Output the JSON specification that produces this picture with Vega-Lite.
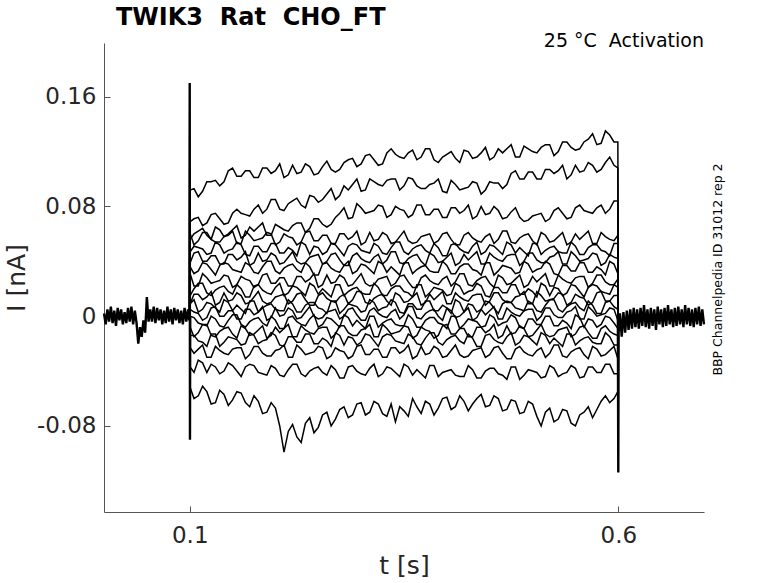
{
  "$schema": "https://vega.github.io/schema/vega-lite/v6.json",
  "width": 600,
  "height": 469,
  "autosize": {"type": "none"},
  "padding": {"left": 104, "top": 43, "right": 74, "bottom": 71},
  "background": "white",
  "title": {
    "text": "TWIK3\u00a0\u00a0Rat\u00a0\u00a0CHO_FT",
    "anchor": "start",
    "frame": "group",
    "dx": 12,
    "dy": 23,
    "offset": 6,
    "baseline": "alphabetic",
    "font": "DejaVu Sans",
    "fontSize": 24,
    "fontWeight": "bold",
    "color": "black"
  },
  "config": {
    "view": {"stroke": null},
    "font": "DejaVu Sans",
    "axis": {"grid": false}
  },
  "datasets": {
    "base": [
      {"seg": "pre", "t": 0, "cur": 0.002},
      {"seg": "pre", "t": 0.002, "cur": -0.006},
      {"seg": "pre", "t": 0.004, "cur": 0.005},
      {"seg": "pre", "t": 0.006, "cur": -0.004},
      {"seg": "pre", "t": 0.008, "cur": 0.007},
      {"seg": "pre", "t": 0.01, "cur": -0.005},
      {"seg": "pre", "t": 0.012, "cur": 0.004},
      {"seg": "pre", "t": 0.014, "cur": -0.007},
      {"seg": "pre", "t": 0.016, "cur": 0.006},
      {"seg": "pre", "t": 0.018, "cur": -0.003},
      {"seg": "pre", "t": 0.02, "cur": 0.005},
      {"seg": "pre", "t": 0.022, "cur": -0.006},
      {"seg": "pre", "t": 0.024, "cur": 0.003},
      {"seg": "pre", "t": 0.026, "cur": -0.005},
      {"seg": "pre", "t": 0.028, "cur": 0.006},
      {"seg": "pre", "t": 0.03, "cur": -0.004},
      {"seg": "pre", "t": 0.032, "cur": 0.007},
      {"seg": "pre", "t": 0.034, "cur": -0.006},
      {"seg": "pre", "t": 0.036, "cur": 0.004},
      {"seg": "pre", "t": 0.038, "cur": -0.005},
      {"seg": "pre", "t": 0.04, "cur": -0.02},
      {"seg": "pre", "t": 0.042, "cur": -0.008},
      {"seg": "pre", "t": 0.044, "cur": -0.015},
      {"seg": "pre", "t": 0.046, "cur": -0.003},
      {"seg": "pre", "t": 0.048, "cur": -0.012},
      {"seg": "pre", "t": 0.05, "cur": 0.014},
      {"seg": "pre", "t": 0.052, "cur": -0.004},
      {"seg": "pre", "t": 0.054, "cur": 0.005},
      {"seg": "pre", "t": 0.056, "cur": -0.004},
      {"seg": "pre", "t": 0.058, "cur": 0.007},
      {"seg": "pre", "t": 0.06, "cur": -0.005},
      {"seg": "pre", "t": 0.062, "cur": 0.006},
      {"seg": "pre", "t": 0.064, "cur": -0.003},
      {"seg": "pre", "t": 0.066, "cur": 0.005},
      {"seg": "pre", "t": 0.068, "cur": -0.006},
      {"seg": "pre", "t": 0.07, "cur": 0.004},
      {"seg": "pre", "t": 0.072, "cur": -0.005},
      {"seg": "pre", "t": 0.074, "cur": 0.007},
      {"seg": "pre", "t": 0.076, "cur": -0.004},
      {"seg": "pre", "t": 0.078, "cur": 0.005},
      {"seg": "pre", "t": 0.08, "cur": -0.006},
      {"seg": "pre", "t": 0.082, "cur": 0.006},
      {"seg": "pre", "t": 0.084, "cur": -0.003},
      {"seg": "pre", "t": 0.086, "cur": 0.005},
      {"seg": "pre", "t": 0.088, "cur": -0.005},
      {"seg": "pre", "t": 0.09, "cur": 0.004},
      {"seg": "pre", "t": 0.092, "cur": -0.006},
      {"seg": "pre", "t": 0.094, "cur": 0.006},
      {"seg": "pre", "t": 0.096, "cur": -0.004},
      {"seg": "pre", "t": 0.098, "cur": 0.005},
      {"seg": "pre", "t": 0.0995, "cur": -0.003},
      {"seg": "pre", "t": 0.1, "cur": 0.17},
      {"seg": "pre", "t": 0.1003, "cur": -0.09},
      {"seg": "pre", "t": 0.1006, "cur": 0},
      {"seg": "post", "t": 0.5995, "cur": 0},
      {"seg": "post", "t": 0.6, "cur": -0.114},
      {"seg": "post", "t": 0.6004, "cur": -0.012},
      {"seg": "post", "t": 0.602, "cur": 0.002},
      {"seg": "post", "t": 0.604, "cur": -0.015},
      {"seg": "post", "t": 0.606, "cur": 0.003},
      {"seg": "post", "t": 0.608, "cur": -0.012},
      {"seg": "post", "t": 0.61, "cur": 0.004},
      {"seg": "post", "t": 0.612, "cur": -0.01},
      {"seg": "post", "t": 0.614, "cur": 0.005},
      {"seg": "post", "t": 0.616, "cur": -0.009},
      {"seg": "post", "t": 0.618, "cur": 0.006},
      {"seg": "post", "t": 0.62, "cur": -0.008},
      {"seg": "post", "t": 0.622, "cur": 0.005},
      {"seg": "post", "t": 0.624, "cur": -0.009},
      {"seg": "post", "t": 0.626, "cur": 0.006},
      {"seg": "post", "t": 0.628, "cur": -0.007},
      {"seg": "post", "t": 0.63, "cur": 0.008},
      {"seg": "post", "t": 0.632, "cur": -0.008},
      {"seg": "post", "t": 0.634, "cur": 0.005},
      {"seg": "post", "t": 0.636, "cur": -0.009},
      {"seg": "post", "t": 0.638, "cur": 0.006},
      {"seg": "post", "t": 0.64, "cur": -0.007},
      {"seg": "post", "t": 0.642, "cur": 0.005},
      {"seg": "post", "t": 0.644, "cur": -0.01},
      {"seg": "post", "t": 0.646, "cur": 0.007},
      {"seg": "post", "t": 0.648, "cur": -0.006},
      {"seg": "post", "t": 0.65, "cur": 0.005},
      {"seg": "post", "t": 0.652, "cur": -0.008},
      {"seg": "post", "t": 0.654, "cur": 0.006},
      {"seg": "post", "t": 0.656, "cur": -0.007},
      {"seg": "post", "t": 0.658, "cur": 0.008},
      {"seg": "post", "t": 0.66, "cur": -0.006},
      {"seg": "post", "t": 0.662, "cur": 0.005},
      {"seg": "post", "t": 0.664, "cur": -0.008},
      {"seg": "post", "t": 0.666, "cur": 0.006},
      {"seg": "post", "t": 0.668, "cur": -0.007},
      {"seg": "post", "t": 0.67, "cur": 0.007},
      {"seg": "post", "t": 0.672, "cur": -0.006},
      {"seg": "post", "t": 0.674, "cur": 0.005},
      {"seg": "post", "t": 0.676, "cur": -0.008},
      {"seg": "post", "t": 0.678, "cur": 0.008},
      {"seg": "post", "t": 0.68, "cur": -0.006},
      {"seg": "post", "t": 0.682, "cur": 0.006},
      {"seg": "post", "t": 0.684, "cur": -0.007},
      {"seg": "post", "t": 0.686, "cur": 0.005},
      {"seg": "post", "t": 0.688, "cur": -0.008},
      {"seg": "post", "t": 0.69, "cur": 0.006},
      {"seg": "post", "t": 0.692, "cur": -0.006},
      {"seg": "post", "t": 0.694, "cur": 0.007},
      {"seg": "post", "t": 0.696, "cur": -0.007},
      {"seg": "post", "t": 0.698, "cur": 0.005},
      {"seg": "post", "t": 0.7, "cur": -0.006}
    ],
    "pulse": [
      {"t":0.1,"a":0,"b":0,"c":0,"d":0,"e":0,"f":0,"g":0,"h":0,"i":0,"j":0,"k":0,"l":0,"m":0,"n":0,"o":0,"p":0,"q":0,"r":0},
      {"t":0.1005,"a":0.092,"b":0.069,"c":0.056,"d":0.06,"e":0.047,"f":0.039,"g":0.036,"h":0.031,"i":0.015,"j":0.009,"k":0.009,"l":0.005,"m":0,"n":-0.008,"o":-0.014,"p":-0.023,"q":-0.037,"r":-0.052},
      {"t":0.105,"a":0.093,"b":0.071,"c":0.06,"d":0.052,"e":0.051,"f":0.046,"g":0.031,"h":0.022,"i":0.02,"j":0.016,"k":0.012,"l":0.003,"m":-0.001,"n":-0.015,"o":-0.014,"p":-0.027,"q":-0.041,"r":-0.06},
      {"t":0.11,"a":0.087,"b":0.072,"c":0.062,"d":0.055,"e":0.05,"f":0.047,"g":0.033,"h":0.022,"i":0.024,"j":0.016,"k":0.003,"l":0.002,"m":-0.005,"n":-0.012,"o":-0.018,"p":-0.024,"q":-0.032,"r":-0.058},
      {"t":0.115,"a":0.091,"b":0.066,"c":0.064,"d":0.061,"e":0.049,"f":0.04,"g":0.039,"h":0.031,"i":0.024,"j":0.012,"k":0.005,"l":-0.003,"m":-0.006,"n":-0.006,"o":-0.019,"p":-0.021,"q":-0.034,"r":-0.051},
      {"t":0.12,"a":0.098,"b":0.068,"c":0.059,"d":0.061,"e":0.045,"f":0.04,"g":0.038,"h":0.028,"i":0.017,"j":0.014,"k":0.01,"l":-0.001,"m":-0.007,"n":-0.006,"o":-0.022,"p":-0.03,"q":-0.041,"r":-0.055},
      {"t":0.125,"a":0.098,"b":0.074,"c":0.056,"d":0.056,"e":0.046,"f":0.044,"g":0.034,"h":0.024,"i":0.015,"j":0.018,"k":0.009,"l":0.006,"m":0,"n":-0.014,"o":-0.013,"p":-0.03,"q":-0.035,"r":-0.064},
      {"t":0.13,"a":0.099,"b":0.075,"c":0.065,"d":0.054,"e":0.054,"f":0.044,"g":0.03,"h":0.025,"i":0.019,"j":0.008,"k":0.006,"l":0.007,"m":-0.002,"n":-0.015,"o":-0.013,"p":-0.022,"q":-0.037,"r":-0.063},
      {"t":0.135,"a":0.095,"b":0.071,"c":0.063,"d":0.054,"e":0.052,"f":0.038,"g":0.037,"h":0.026,"i":0.021,"j":0.01,"k":0.003,"l":0,"m":-0.007,"n":-0.011,"o":-0.022,"p":-0.025,"q":-0.042,"r":-0.054},
      {"t":0.14,"a":0.098,"b":0.067,"c":0.058,"d":0.058,"e":0.046,"f":0.038,"g":0.039,"h":0.03,"i":0.022,"j":0.017,"k":0.012,"l":0,"m":-0.008,"n":-0.009,"o":-0.019,"p":-0.027,"q":-0.04,"r":-0.057},
      {"t":0.145,"a":0.106,"b":0.068,"c":0.06,"d":0.059,"e":0.048,"f":0.045,"g":0.038,"h":0.029,"i":0.018,"j":0.011,"k":0.01,"l":0.004,"m":-0.003,"n":-0.008,"o":-0.015,"p":-0.028,"q":-0.034,"r":-0.065},
      {"t":0.15,"a":0.108,"b":0.075,"c":0.063,"d":0.062,"e":0.049,"f":0.045,"g":0.034,"h":0.021,"i":0.016,"j":0.012,"k":0.004,"l":0.004,"m":0.001,"n":-0.013,"o":-0.016,"p":-0.024,"q":-0.036,"r":-0.061},
      {"t":0.155,"a":0.102,"b":0.078,"c":0.066,"d":0.053,"e":0.054,"f":0.041,"g":0.033,"h":0.023,"i":0.023,"j":0.017,"k":0.008,"l":-0.002,"m":0.001,"n":-0.016,"o":-0.017,"p":-0.023,"q":-0.04,"r":-0.055},
      {"t":0.16,"a":0.102,"b":0.075,"c":0.057,"d":0.053,"e":0.052,"f":0.043,"g":0.032,"h":0.029,"i":0.02,"j":0.015,"k":0.005,"l":-0.002,"m":-0.006,"n":-0.007,"o":-0.021,"p":-0.023,"q":-0.044,"r":-0.056},
      {"t":0.165,"a":0.106,"b":0.074,"c":0.059,"d":0.062,"e":0.045,"f":0.047,"g":0.039,"h":0.027,"i":0.014,"j":0.009,"k":0.002,"l":0.005,"m":-0.008,"n":-0.009,"o":-0.02,"p":-0.031,"q":-0.037,"r":-0.063},
      {"t":0.17,"a":0.106,"b":0.073,"c":0.065,"d":0.059,"e":0.044,"f":0.037,"g":0.037,"h":0.026,"i":0.014,"j":0.01,"k":0.011,"l":0.005,"m":-0.004,"n":-0.014,"o":-0.012,"p":-0.028,"q":-0.035,"r":-0.066},
      {"t":0.175,"a":0.101,"b":0.078,"c":0.062,"d":0.055,"e":0.051,"f":0.039,"g":0.032,"h":0.021,"i":0.022,"j":0.014,"k":0.011,"l":0.001,"m":-0.002,"n":-0.013,"o":-0.014,"p":-0.022,"q":-0.036,"r":-0.058},
      {"t":0.18,"a":0.101,"b":0.081,"c":0.065,"d":0.056,"e":0.051,"f":0.046,"g":0.031,"h":0.023,"i":0.023,"j":0.018,"k":0.003,"l":0.003,"m":-0.001,"n":-0.01,"o":-0.02,"p":-0.022,"q":-0.041,"r":-0.062},
      {"t":0.185,"a":0.108,"b":0.075,"c":0.068,"d":0.057,"e":0.047,"f":0.04,"g":0.036,"h":0.03,"i":0.019,"j":0.011,"k":0.006,"l":0.007,"m":-0.005,"n":-0.007,"o":-0.018,"p":-0.027,"q":-0.042,"r":-0.071},
      {"t":0.19,"a":0.108,"b":0.078,"c":0.059,"d":0.061,"e":0.047,"f":0.041,"g":0.04,"h":0.031,"i":0.017,"j":0.009,"k":0.008,"l":-0.003,"m":-0.007,"n":-0.016,"o":-0.017,"p":-0.029,"q":-0.043,"r":-0.07},
      {"t":0.195,"a":0.104,"b":0.085,"c":0.059,"d":0.06,"e":0.053,"f":0.046,"g":0.04,"h":0.024,"i":0.016,"j":0.01,"k":0.009,"l":-0.001,"m":0,"n":-0.014,"o":-0.012,"p":-0.029,"q":-0.036,"r":-0.063},
      {"t":0.2,"a":0.106,"b":0.085,"c":0.067,"d":0.052,"e":0.053,"f":0.044,"g":0.033,"h":0.024,"i":0.021,"j":0.014,"k":0.005,"l":0.006,"m":-0.003,"n":-0.008,"o":-0.014,"p":-0.025,"q":-0.038,"r":-0.067},
      {"t":0.205,"a":0.111,"b":0.078,"c":0.065,"d":0.054,"e":0.046,"f":0.038,"g":0.031,"h":0.028,"i":0.024,"j":0.015,"k":0.004,"l":0,"m":-0.009,"n":-0.012,"o":-0.021,"p":-0.024,"q":-0.043,"r":-0.08},
      {"t":0.21,"a":0.101,"b":0.077,"c":0.063,"d":0.06,"e":0.046,"f":0.039,"g":0.035,"h":0.028,"i":0.015,"j":0.016,"k":0.004,"l":0.001,"m":-0.009,"n":-0.009,"o":-0.022,"p":-0.021,"q":-0.044,"r":-0.099},
      {"t":0.215,"a":0.103,"b":0.082,"c":0.062,"d":0.058,"e":0.05,"f":0.043,"g":0.037,"h":0.022,"i":0.017,"j":0.009,"k":0.012,"l":0.006,"m":-0.001,"n":-0.006,"o":-0.015,"p":-0.03,"q":-0.039,"r":-0.084},
      {"t":0.22,"a":0.11,"b":0.084,"c":0.066,"d":0.057,"e":0.048,"f":0.047,"g":0.038,"h":0.022,"i":0.022,"j":0.011,"k":0.009,"l":0.004,"m":0,"n":-0.015,"o":-0.015,"p":-0.03,"q":-0.035,"r":-0.079},
      {"t":0.225,"a":0.104,"b":0.086,"c":0.068,"d":0.052,"e":0.044,"f":0.04,"g":0.034,"h":0.029,"i":0.021,"j":0.016,"k":0.003,"l":-0.002,"m":-0.004,"n":-0.015,"o":-0.019,"p":-0.021,"q":-0.035,"r":-0.088},
      {"t":0.23,"a":0.105,"b":0.081,"c":0.068,"d":0.054,"e":0.054,"f":0.038,"g":0.032,"h":0.029,"i":0.018,"j":0.017,"k":0.003,"l":-0.001,"m":-0.006,"n":-0.007,"o":-0.019,"p":-0.024,"q":-0.042,"r":-0.092},
      {"t":0.235,"a":0.111,"b":0.079,"c":0.061,"d":0.061,"e":0.052,"f":0.039,"g":0.039,"h":0.025,"i":0.015,"j":0.012,"k":0.008,"l":0.003,"m":-0.007,"n":-0.01,"o":-0.013,"p":-0.028,"q":-0.044,"r":-0.078},
      {"t":0.24,"a":0.109,"b":0.088,"c":0.064,"d":0.062,"e":0.045,"f":0.043,"g":0.036,"h":0.027,"i":0.024,"j":0.008,"k":0.01,"l":0.007,"m":-0.002,"n":-0.012,"o":-0.013,"p":-0.027,"q":-0.04,"r":-0.074},
      {"t":0.245,"a":0.103,"b":0.087,"c":0.071,"d":0.055,"e":0.051,"f":0.044,"g":0.03,"h":0.031,"i":0.022,"j":0.008,"k":0.01,"l":0,"m":0.001,"n":-0.013,"o":-0.02,"p":-0.026,"q":-0.038,"r":-0.085},
      {"t":0.25,"a":0.104,"b":0.083,"c":0.071,"d":0.055,"e":0.05,"f":0.045,"g":0.03,"h":0.021,"i":0.016,"j":0.015,"k":0.006,"l":-0.002,"m":-0.008,"n":-0.009,"o":-0.02,"p":-0.022,"q":-0.037,"r":-0.081},
      {"t":0.255,"a":0.109,"b":0.085,"c":0.067,"d":0.059,"e":0.045,"f":0.038,"g":0.038,"h":0.023,"i":0.02,"j":0.017,"k":0.005,"l":-0.001,"m":-0.006,"n":-0.008,"o":-0.016,"p":-0.023,"q":-0.041,"r":-0.072},
      {"t":0.26,"a":0.113,"b":0.089,"c":0.065,"d":0.059,"e":0.047,"f":0.04,"g":0.039,"h":0.03,"i":0.017,"j":0.013,"k":0.002,"l":0.003,"m":-0.001,"n":-0.008,"o":-0.018,"p":-0.031,"q":-0.043,"r":-0.07},
      {"t":0.265,"a":0.107,"b":0.093,"c":0.067,"d":0.053,"e":0.053,"f":0.045,"g":0.035,"h":0.024,"i":0.014,"j":0.011,"k":0.011,"l":0.004,"m":-0.002,"n":-0.016,"o":-0.022,"p":-0.029,"q":-0.036,"r":-0.08},
      {"t":0.27,"a":0.105,"b":0.085,"c":0.072,"d":0.053,"e":0.052,"f":0.046,"g":0.033,"h":0.025,"i":0.023,"j":0.01,"k":0.011,"l":0.005,"m":-0.005,"n":-0.013,"o":-0.012,"p":-0.023,"q":-0.039,"r":-0.075},
      {"t":0.275,"a":0.107,"b":0.088,"c":0.075,"d":0.06,"e":0.048,"f":0.041,"g":0.032,"h":0.03,"i":0.023,"j":0.014,"k":0.002,"l":-0.002,"m":-0.008,"n":-0.007,"o":-0.014,"p":-0.025,"q":-0.045,"r":-0.068},
      {"t":0.28,"a":0.112,"b":0.095,"c":0.079,"d":0.06,"e":0.044,"f":0.037,"g":0.037,"h":0.028,"i":0.015,"j":0.016,"k":0.005,"l":0,"m":0.001,"n":-0.007,"o":-0.021,"p":-0.026,"q":-0.045,"r":-0.066},
      {"t":0.285,"a":0.114,"b":0.092,"c":0.071,"d":0.056,"e":0.051,"f":0.037,"g":0.04,"h":0.022,"i":0.018,"j":0.009,"k":0.009,"l":0.005,"m":-0.001,"n":-0.012,"o":-0.015,"p":-0.031,"q":-0.037,"r":-0.074},
      {"t":0.29,"a":0.115,"b":0.096,"c":0.072,"d":0.058,"e":0.053,"f":0.044,"g":0.031,"h":0.023,"i":0.02,"j":0.012,"k":0.008,"l":0.006,"m":-0.007,"n":-0.014,"o":-0.016,"p":-0.029,"q":-0.036,"r":-0.072},
      {"t":0.295,"a":0.109,"b":0.1,"c":0.082,"d":0.062,"e":0.052,"f":0.046,"g":0.033,"h":0.027,"i":0.021,"j":0.018,"k":0.007,"l":0.001,"m":-0.003,"n":-0.014,"o":-0.021,"p":-0.022,"q":-0.04,"r":-0.064},
      {"t":0.3,"a":0.111,"b":0.091,"c":0.079,"d":0.052,"e":0.048,"f":0.042,"g":0.038,"h":0.031,"i":0.017,"j":0.018,"k":0.003,"l":-0.003,"m":-0.006,"n":-0.01,"o":-0.019,"p":-0.021,"q":-0.042,"r":-0.063},
      {"t":0.305,"a":0.117,"b":0.092,"c":0.075,"d":0.054,"e":0.047,"f":0.04,"g":0.037,"h":0.024,"i":0.016,"j":0.01,"k":0.004,"l":-0.003,"m":-0.009,"n":-0.009,"o":-0.013,"p":-0.028,"q":-0.043,"r":-0.072},
      {"t":0.31,"a":0.118,"b":0.1,"c":0.076,"d":0.061,"e":0.046,"f":0.039,"g":0.034,"h":0.022,"i":0.016,"j":0.009,"k":0.012,"l":0.004,"m":0,"n":-0.006,"o":-0.014,"p":-0.028,"q":-0.038,"r":-0.07},
      {"t":0.315,"a":0.114,"b":0.098,"c":0.077,"d":0.055,"e":0.053,"f":0.043,"g":0.031,"h":0.023,"i":0.024,"j":0.013,"k":0.01,"l":0.006,"m":0,"n":-0.015,"o":-0.018,"p":-0.024,"q":-0.035,"r":-0.062},
      {"t":0.32,"a":0.11,"b":0.096,"c":0.081,"d":0.056,"e":0.051,"f":0.045,"g":0.04,"h":0.027,"i":0.021,"j":0.015,"k":0.004,"l":0.002,"m":-0.008,"n":-0.015,"o":-0.022,"p":-0.024,"q":-0.044,"r":-0.064},
      {"t":0.325,"a":0.111,"b":0.095,"c":0.08,"d":0.061,"e":0.046,"f":0.038,"g":0.038,"h":0.028,"i":0.015,"j":0.016,"k":0.006,"l":0,"m":-0.005,"n":-0.006,"o":-0.015,"p":-0.03,"q":-0.042,"r":-0.071},
      {"t":0.33,"a":0.119,"b":0.099,"c":0.072,"d":0.059,"e":0.045,"f":0.041,"g":0.032,"h":0.029,"i":0.015,"j":0.011,"k":0.007,"l":-0.001,"m":-0.003,"n":-0.009,"o":-0.013,"p":-0.03,"q":-0.037,"r":-0.073},
      {"t":0.335,"a":0.122,"b":0.1,"c":0.074,"d":0.053,"e":0.05,"f":0.047,"g":0.036,"h":0.022,"i":0.02,"j":0.008,"k":0.012,"l":0.003,"m":-0.002,"n":-0.013,"o":-0.014,"p":-0.023,"q":-0.038,"r":-0.064},
      {"t":0.34,"a":0.118,"b":0.1,"c":0.08,"d":0.054,"e":0.054,"f":0.047,"g":0.033,"h":0.024,"i":0.022,"j":0.017,"k":0.01,"l":0.005,"m":-0.006,"n":-0.012,"o":-0.018,"p":-0.023,"q":-0.041,"r":-0.077},
      {"t":0.345,"a":0.116,"b":0.092,"c":0.078,"d":0.058,"e":0.054,"f":0.039,"g":0.03,"h":0.029,"i":0.022,"j":0.015,"k":0.003,"l":-0.002,"m":-0.007,"n":-0.011,"o":-0.019,"p":-0.027,"q":-0.044,"r":-0.066},
      {"t":0.35,"a":0.115,"b":0.095,"c":0.077,"d":0.062,"e":0.047,"f":0.038,"g":0.039,"h":0.03,"i":0.018,"j":0.01,"k":0.002,"l":0.001,"m":-0.007,"n":-0.007,"o":-0.02,"p":-0.025,"q":-0.035,"r":-0.069},
      {"t":0.355,"a":0.119,"b":0.101,"c":0.072,"d":0.055,"e":0.045,"f":0.042,"g":0.039,"h":0.025,"i":0.017,"j":0.011,"k":0.009,"l":0.007,"m":0.001,"n":-0.008,"o":-0.013,"p":-0.021,"q":-0.037,"r":-0.073},
      {"t":0.36,"a":0.121,"b":0.1,"c":0.074,"d":0.053,"e":0.049,"f":0.044,"g":0.031,"h":0.021,"i":0.014,"j":0.014,"k":0.009,"l":0.007,"m":-0.002,"n":-0.016,"o":-0.015,"p":-0.031,"q":-0.043,"r":-0.06},
      {"t":0.365,"a":0.114,"b":0.095,"c":0.081,"d":0.054,"e":0.051,"f":0.045,"g":0.034,"h":0.021,"i":0.023,"j":0.017,"k":0.005,"l":-0.001,"m":-0.008,"n":-0.014,"o":-0.02,"p":-0.029,"q":-0.039,"r":-0.066},
      {"t":0.37,"a":0.116,"b":0.093,"c":0.081,"d":0.058,"e":0.052,"f":0.04,"g":0.036,"h":0.028,"i":0.023,"j":0.008,"k":0.005,"l":-0.002,"m":-0.008,"n":-0.008,"o":-0.021,"p":-0.022,"q":-0.042,"r":-0.071},
      {"t":0.375,"a":0.122,"b":0.093,"c":0.074,"d":0.059,"e":0.048,"f":0.037,"g":0.037,"h":0.03,"i":0.014,"j":0.01,"k":0.011,"l":0.002,"m":-0.003,"n":-0.01,"o":-0.016,"p":-0.028,"q":-0.045,"r":-0.062},
      {"t":0.38,"a":0.122,"b":0.096,"c":0.074,"d":0.06,"e":0.046,"f":0.046,"g":0.033,"h":0.026,"i":0.017,"j":0.016,"k":0.011,"l":0.004,"m":-0.001,"n":-0.011,"o":-0.012,"p":-0.027,"q":-0.036,"r":-0.064},
      {"t":0.385,"a":0.114,"b":0.097,"c":0.078,"d":0.053,"e":0.053,"f":0.044,"g":0.032,"h":0.024,"i":0.021,"j":0.012,"k":0.004,"l":0.005,"m":-0.001,"n":-0.016,"o":-0.012,"p":-0.022,"q":-0.036,"r":-0.072},
      {"t":0.39,"a":0.112,"b":0.1,"c":0.078,"d":0.055,"e":0.05,"f":0.039,"g":0.032,"h":0.023,"i":0.02,"j":0.015,"k":0.004,"l":0,"m":-0.005,"n":-0.014,"o":-0.019,"p":-0.024,"q":-0.044,"r":-0.067},
      {"t":0.395,"a":0.116,"b":0.091,"c":0.072,"d":0.06,"e":0.044,"f":0.04,"g":0.04,"h":0.027,"i":0.019,"j":0.018,"k":0.008,"l":-0.003,"m":-0.006,"n":-0.007,"o":-0.021,"p":-0.03,"q":-0.041,"r":-0.06},
      {"t":0.4,"a":0.118,"b":0.09,"c":0.072,"d":0.061,"e":0.044,"f":0.043,"g":0.037,"h":0.029,"i":0.015,"j":0.009,"k":0.006,"l":0.006,"m":-0.009,"n":-0.006,"o":-0.017,"p":-0.029,"q":-0.04,"r":-0.059},
      {"t":0.405,"a":0.12,"b":0.099,"c":0.079,"d":0.056,"e":0.052,"f":0.046,"g":0.031,"h":0.022,"i":0.016,"j":0.009,"k":0.002,"l":0.004,"m":0,"n":-0.013,"o":-0.015,"p":-0.025,"q":-0.039,"r":-0.068},
      {"t":0.41,"a":0.115,"b":0.096,"c":0.079,"d":0.052,"e":0.053,"f":0.037,"g":0.031,"h":0.025,"i":0.024,"j":0.017,"k":0.012,"l":-0.001,"m":0,"n":-0.013,"o":-0.014,"p":-0.021,"q":-0.043,"r":-0.066},
      {"t":0.415,"a":0.112,"b":0.092,"c":0.075,"d":0.052,"e":0.049,"f":0.039,"g":0.036,"h":0.031,"i":0.022,"j":0.014,"k":0.01,"l":0,"m":-0.009,"n":-0.009,"o":-0.018,"p":-0.028,"q":-0.044,"r":-0.058},
      {"t":0.42,"a":0.121,"b":0.093,"c":0.077,"d":0.059,"e":0.047,"f":0.045,"g":0.038,"h":0.031,"i":0.016,"j":0.012,"k":0.003,"l":0.003,"m":-0.006,"n":-0.009,"o":-0.02,"p":-0.03,"q":-0.044,"r":-0.062},
      {"t":0.425,"a":0.12,"b":0.094,"c":0.081,"d":0.061,"e":0.046,"f":0.041,"g":0.038,"h":0.023,"i":0.018,"j":0.011,"k":0.009,"l":0.006,"m":-0.002,"n":-0.015,"o":-0.013,"p":-0.029,"q":-0.036,"r":-0.069},
      {"t":0.43,"a":0.115,"b":0.098,"c":0.071,"d":0.057,"e":0.051,"f":0.044,"g":0.034,"h":0.022,"i":0.019,"j":0.015,"k":0.008,"l":-0.003,"m":-0.003,"n":-0.015,"o":-0.016,"p":-0.025,"q":-0.039,"r":-0.064},
      {"t":0.435,"a":0.116,"b":0.097,"c":0.073,"d":0.055,"e":0.054,"f":0.047,"g":0.033,"h":0.026,"i":0.024,"j":0.016,"k":0.003,"l":-0.001,"m":-0.004,"n":-0.008,"o":-0.022,"p":-0.024,"q":-0.045,"r":-0.06},
      {"t":0.44,"a":0.119,"b":0.089,"c":0.08,"d":0.054,"e":0.045,"f":0.038,"g":0.03,"h":0.028,"i":0.022,"j":0.016,"k":0.005,"l":0.005,"m":-0.008,"n":-0.008,"o":-0.022,"p":-0.023,"q":-0.045,"r":-0.057},
      {"t":0.445,"a":0.123,"b":0.092,"c":0.074,"d":0.058,"e":0.047,"f":0.038,"g":0.039,"h":0.029,"i":0.015,"j":0.008,"k":0.011,"l":0.001,"m":-0.007,"n":-0.012,"o":-0.014,"p":-0.03,"q":-0.04,"r":-0.066},
      {"t":0.45,"a":0.114,"b":0.098,"c":0.075,"d":0.06,"e":0.052,"f":0.046,"g":0.039,"h":0.024,"i":0.014,"j":0.011,"k":0.01,"l":0.004,"m":0.001,"n":-0.01,"o":-0.013,"p":-0.028,"q":-0.038,"r":-0.065},
      {"t":0.455,"a":0.116,"b":0.097,"c":0.08,"d":0.053,"e":0.051,"f":0.043,"g":0.03,"h":0.021,"i":0.021,"j":0.017,"k":0.006,"l":0.007,"m":-0.001,"n":-0.006,"o":-0.017,"p":-0.023,"q":-0.038,"r":-0.058},
      {"t":0.46,"a":0.122,"b":0.097,"c":0.077,"d":0.056,"e":0.048,"f":0.041,"g":0.033,"h":0.03,"i":0.021,"j":0.017,"k":0.002,"l":-0.002,"m":-0.007,"n":-0.016,"o":-0.019,"p":-0.022,"q":-0.042,"r":-0.06},
      {"t":0.465,"a":0.119,"b":0.093,"c":0.071,"d":0.062,"e":0.045,"f":0.04,"g":0.037,"h":0.028,"i":0.017,"j":0.012,"k":0.009,"l":-0.002,"m":-0.005,"n":-0.014,"o":-0.02,"p":-0.027,"q":-0.043,"r":-0.069},
      {"t":0.47,"a":0.122,"b":0.096,"c":0.072,"d":0.062,"e":0.054,"f":0.044,"g":0.036,"h":0.023,"i":0.017,"j":0.01,"k":0.011,"l":0.006,"m":-0.004,"n":-0.007,"o":-0.015,"p":-0.031,"q":-0.046,"r":-0.068},
      {"t":0.475,"a":0.125,"b":0.104,"c":0.076,"d":0.054,"e":0.052,"f":0.045,"g":0.035,"h":0.024,"i":0.023,"j":0.01,"k":0.01,"l":0.003,"m":0.001,"n":-0.013,"o":-0.012,"p":-0.031,"q":-0.037,"r":-0.061},
      {"t":0.48,"a":0.116,"b":0.106,"c":0.079,"d":0.053,"e":0.046,"f":0.045,"g":0.031,"h":0.027,"i":0.023,"j":0.014,"k":0.006,"l":0.001,"m":-0.001,"n":-0.012,"o":-0.021,"p":-0.024,"q":-0.037,"r":-0.062},
      {"t":0.485,"a":0.116,"b":0.1,"c":0.072,"d":0.057,"e":0.05,"f":0.037,"g":0.032,"h":0.03,"i":0.016,"j":0.015,"k":0.005,"l":0,"m":-0.008,"n":-0.007,"o":-0.019,"p":-0.022,"q":-0.046,"r":-0.071},
      {"t":0.49,"a":0.124,"b":0.1,"c":0.069,"d":0.059,"e":0.047,"f":0.04,"g":0.04,"h":0.021,"i":0.016,"j":0.018,"k":0.004,"l":0.004,"m":-0.009,"n":-0.009,"o":-0.014,"p":-0.026,"q":-0.043,"r":-0.07},
      {"t":0.495,"a":0.122,"b":0.105,"c":0.07,"d":0.06,"e":0.044,"f":0.046,"g":0.038,"h":0.023,"i":0.02,"j":0.009,"k":0.011,"l":0.005,"m":-0.002,"n":-0.015,"o":-0.015,"p":-0.028,"q":-0.039,"r":-0.062},
      {"t":0.5,"a":0.12,"b":0.105,"c":0.073,"d":0.055,"e":0.053,"f":0.046,"g":0.032,"h":0.029,"i":0.018,"j":0.009,"k":0.009,"l":0.005,"m":-0.002,"n":-0.014,"o":-0.018,"p":-0.029,"q":-0.04,"r":-0.064},
      {"t":0.505,"a":0.119,"b":0.1,"c":0.074,"d":0.052,"e":0.053,"f":0.041,"g":0.034,"h":0.025,"i":0.014,"j":0.018,"k":0.004,"l":-0.003,"m":-0.006,"n":-0.01,"o":-0.021,"p":-0.025,"q":-0.041,"r":-0.073},
      {"t":0.51,"a":0.123,"b":0.1,"c":0.075,"d":0.061,"e":0.045,"f":0.039,"g":0.035,"h":0.028,"i":0.024,"j":0.015,"k":0.003,"l":0,"m":-0.006,"n":-0.006,"o":-0.012,"p":-0.023,"q":-0.045,"r":-0.08},
      {"t":0.515,"a":0.125,"b":0.107,"c":0.069,"d":0.059,"e":0.048,"f":0.039,"g":0.04,"h":0.031,"i":0.022,"j":0.011,"k":0.008,"l":0.006,"m":0,"n":-0.013,"o":-0.014,"p":-0.03,"q":-0.044,"r":-0.07},
      {"t":0.52,"a":0.125,"b":0.107,"c":0.071,"d":0.054,"e":0.05,"f":0.043,"g":0.038,"h":0.022,"i":0.015,"j":0.012,"k":0.012,"l":0.006,"m":0,"n":-0.015,"o":-0.02,"p":-0.027,"q":-0.036,"r":-0.067},
      {"t":0.525,"a":0.117,"b":0.104,"c":0.077,"d":0.055,"e":0.051,"f":0.044,"g":0.031,"h":0.022,"i":0.021,"j":0.013,"k":0.012,"l":0.001,"m":-0.007,"n":-0.014,"o":-0.016,"p":-0.021,"q":-0.038,"r":-0.077},
      {"t":0.53,"a":0.12,"b":0.106,"c":0.079,"d":0.058,"e":0.047,"f":0.047,"g":0.03,"h":0.03,"i":0.02,"j":0.017,"k":0.005,"l":-0.001,"m":-0.007,"n":-0.01,"o":-0.019,"p":-0.021,"q":-0.044,"r":-0.075},
      {"t":0.535,"a":0.127,"b":0.11,"c":0.075,"d":0.061,"e":0.046,"f":0.038,"g":0.037,"h":0.027,"i":0.015,"j":0.016,"k":0.003,"l":-0.001,"m":-0.003,"n":-0.009,"o":-0.022,"p":-0.029,"q":-0.042,"r":-0.068},
      {"t":0.54,"a":0.127,"b":0.1,"c":0.071,"d":0.052,"e":0.046,"f":0.038,"g":0.037,"h":0.025,"i":0.017,"j":0.008,"k":0.007,"l":0.003,"m":-0.005,"n":-0.008,"o":-0.013,"p":-0.03,"q":-0.041,"r":-0.069},
      {"t":0.545,"a":0.123,"b":0.103,"c":0.072,"d":0.054,"e":0.054,"f":0.047,"g":0.033,"h":0.024,"i":0.023,"j":0.01,"k":0.009,"l":0.004,"m":-0.009,"n":-0.015,"o":-0.013,"p":-0.026,"q":-0.036,"r":-0.078},
      {"t":0.55,"a":0.121,"b":0.11,"c":0.079,"d":0.06,"e":0.051,"f":0.044,"g":0.033,"h":0.028,"i":0.022,"j":0.016,"k":0.01,"l":0.007,"m":0.001,"n":-0.013,"o":-0.021,"p":-0.024,"q":-0.038,"r":-0.08},
      {"t":0.555,"a":0.122,"b":0.105,"c":0.081,"d":0.056,"e":0.045,"f":0.04,"g":0.039,"h":0.029,"i":0.018,"j":0.014,"k":0.006,"l":-0.002,"m":-0.001,"n":-0.008,"o":-0.018,"p":-0.023,"q":-0.045,"r":-0.072},
      {"t":0.56,"a":0.127,"b":0.106,"c":0.077,"d":0.059,"e":0.045,"f":0.041,"g":0.039,"h":0.029,"i":0.014,"j":0.013,"k":0.004,"l":-0.002,"m":-0.008,"n":-0.007,"o":-0.016,"p":-0.028,"q":-0.044,"r":-0.07},
      {"t":0.565,"a":0.129,"b":0.112,"c":0.076,"d":0.062,"e":0.05,"f":0.042,"g":0.032,"h":0.021,"i":0.021,"j":0.008,"k":0.011,"l":0.007,"m":-0.002,"n":-0.012,"o":-0.015,"p":-0.031,"q":-0.037,"r":-0.066},
      {"t":0.57,"a":0.133,"b":0.11,"c":0.075,"d":0.053,"e":0.052,"f":0.046,"g":0.032,"h":0.024,"i":0.023,"j":0.01,"k":0.008,"l":0.004,"m":-0.003,"n":-0.016,"o":-0.019,"p":-0.022,"q":-0.037,"r":-0.074},
      {"t":0.575,"a":0.125,"b":0.105,"c":0.079,"d":0.053,"e":0.052,"f":0.045,"g":0.036,"h":0.03,"i":0.022,"j":0.017,"k":0.002,"l":0,"m":-0.008,"n":-0.016,"o":-0.02,"p":-0.024,"q":-0.041,"r":-0.068},
      {"t":0.58,"a":0.126,"b":0.107,"c":0.081,"d":0.061,"e":0.048,"f":0.037,"g":0.034,"h":0.03,"i":0.018,"j":0.018,"k":0.002,"l":0.001,"m":-0.006,"n":-0.009,"o":-0.02,"p":-0.029,"q":-0.041,"r":-0.062},
      {"t":0.585,"a":0.135,"b":0.112,"c":0.075,"d":0.058,"e":0.047,"f":0.039,"g":0.03,"h":0.025,"i":0.017,"j":0.011,"k":0.01,"l":0.002,"m":0,"n":-0.007,"o":-0.012,"p":-0.028,"q":-0.035,"r":-0.058},
      {"t":0.59,"a":0.132,"b":0.116,"c":0.078,"d":0.056,"e":0.044,"f":0.045,"g":0.04,"h":0.023,"i":0.016,"j":0.011,"k":0.011,"l":0.006,"m":-0.001,"n":-0.011,"o":-0.015,"p":-0.025,"q":-0.035,"r":-0.063},
      {"t":0.595,"a":0.127,"b":0.11,"c":0.084,"d":0.055,"e":0.053,"f":0.043,"g":0.038,"h":0.023,"i":0.023,"j":0.015,"k":0.007,"l":0.005,"m":-0.005,"n":-0.013,"o":-0.021,"p":-0.022,"q":-0.042,"r":-0.06},
      {"t":0.5995,"a":0.127,"b":0.108,"c":0.084,"d":0.059,"e":0.053,"f":0.042,"g":0.031,"h":0.027,"i":0.021,"j":0.015,"k":0.005,"l":-0.003,"m":-0.009,"n":-0.014,"o":-0.021,"p":-0.031,"q":-0.042,"r":-0.055},
      {"t":0.6,"a":0,"b":0,"c":0,"d":0,"e":0,"f":0,"g":0,"h":0,"i":0,"j":0,"k":0,"l":0,"m":0,"n":0,"o":0,"p":0,"q":0,"r":0}
    ]
  },
  "layer": [
    {
      "data": {"name": "base"},
      "mark": {"type": "line", "color": "black", "strokeWidth": 2.4},
      "encoding": {
        "x": {
          "field": "t",
          "type": "quantitative",
          "scale": {"domain": [0, 0.7], "nice": false, "zero": false},
          "axis": {
            "values": [0.1, 0.6],
            "format": ".1f",
            "title": "t [s]",
            "titleFontSize": 25,
            "titleFontWeight": "normal",
            "titleColor": "#262626",
            "titleX": 300,
            "titleY": 61,
            "titleAlign": "center",
            "titleBaseline": "alphabetic",
            "labelFontSize": 23,
            "labelColor": "#262626",
            "labelBaseline": "alphabetic",
            "labelPadding": 36,
            "tickSize": -6,
            "tickColor": "#555555",
            "domainColor": "#555555"
          }
        },
        "y": {
          "field": "cur",
          "type": "quantitative",
          "scale": {"domain": [-0.1427, 0.1991], "nice": false, "zero": false},
          "axis": {
            "values": [-0.08, 0, 0.08, 0.16],
            "format": ".2~f",
            "labelExpr": "replace(datum.label, '−', '-')",
            "title": "I [nA]",
            "titleFontSize": 25,
            "titleFontWeight": "normal",
            "titleColor": "#262626",
            "titleAngle": 270,
            "titleX": -88,
            "titleY": 234.5,
            "titleAlign": "center",
            "titleBaseline": "middle",
            "labelFontSize": 23,
            "labelColor": "#262626",
            "labelPadding": 14,
            "tickSize": -6,
            "tickColor": "#555555",
            "domainColor": "#555555"
          }
        },
        "detail": {"field": "seg", "type": "nominal"}
      }
    },
    {
      "data": {"name": "pulse"},
      "transform": [
        {"fold": ["a", "b", "c", "d", "e", "f", "g", "h", "i", "j", "k", "l", "m", "n", "o", "p", "q", "r"], "as": ["trace", "cur"]}
      ],
      "mark": {"type": "line", "color": "black", "strokeWidth": 1.5},
      "encoding": {
        "x": {"field": "t", "type": "quantitative"},
        "y": {"field": "cur", "type": "quantitative"},
        "detail": {"field": "trace", "type": "nominal"}
      }
    },
    {
      "data": {"values": [{"t": 0.7, "cur": 0.1962, "note": "25 °C\u00a0\u00a0Activation"}]},
      "mark": {"type": "text", "align": "right", "baseline": "alphabetic", "fontSize": 19, "color": "black"},
      "encoding": {
        "x": {"field": "t", "type": "quantitative"},
        "y": {"field": "cur", "type": "quantitative"},
        "text": {"field": "note"}
      }
    },
    {
      "data": {"values": [{"t": 0.7158, "cur": 0.034, "note": "BBP Channelpedia ID 31012 rep 2"}]},
      "mark": {"type": "text", "align": "center", "baseline": "middle", "angle": 270, "fontSize": 12.5, "color": "black"},
      "encoding": {
        "x": {"field": "t", "type": "quantitative"},
        "y": {"field": "cur", "type": "quantitative"},
        "text": {"field": "note"}
      }
    }
  ]
}
